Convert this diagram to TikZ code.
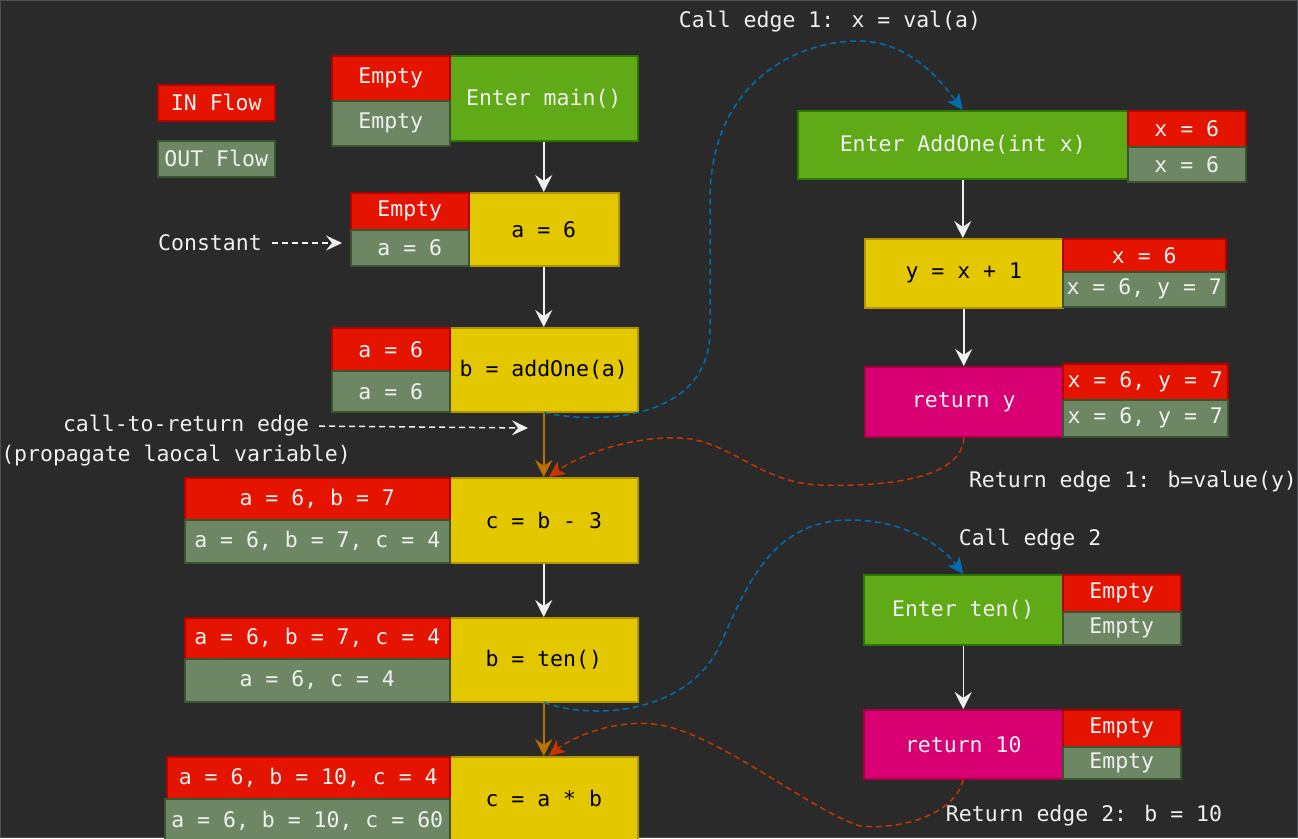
\documentclass[tikz,border=0pt]{standalone}
\usepackage{fontspec}
\setmainfont{DejaVu Sans Mono}
\usetikzlibrary{arrows.meta}
\definecolor{bg}{HTML}{2A2A2A}
\definecolor{fg}{HTML}{F0F0F0}
\definecolor{inF}{HTML}{E51400}\definecolor{inD}{HTML}{B20000}
\definecolor{outF}{HTML}{6D8764}\definecolor{outD}{HTML}{3A5431}
\definecolor{grF}{HTML}{60A917}\definecolor{grD}{HTML}{2D7600}
\definecolor{yeF}{HTML}{E3C800}\definecolor{yeD}{HTML}{B09500}
\definecolor{maF}{HTML}{D80073}\definecolor{maD}{HTML}{A50040}
\definecolor{blueE}{HTML}{006EAF}
\definecolor{redE}{HTML}{C73500}
\definecolor{orE}{HTML}{BD7000}
\definecolor{frameC}{HTML}{4A5056}
\newcommand\mybox[7]{\node[bx,#2,minimum width={(#5-#3)*1pt},minimum height={(#6-#4)*1pt}] (#1) at (#3,#4) {#7};}
\tikzset{
  bx/.style={draw, line width=1.5pt, anchor=north west, inner sep=0pt, text=fg},
  inflow/.style={fill=inF, draw=inD},
  outflow/.style={fill=outF, draw=outD},
  entry/.style={fill=grF, draw=grD},
  stmt/.style={fill=yeF, draw=yeD, text=black},
  ret/.style={fill=maF, draw=maD},
  lbl/.style={text=fg, inner sep=4pt},
  flow/.style={draw=fg, line width=1.5pt, -{Stealth[length=17pt,width=17pt,inset=6pt]}},
  ctrflow/.style={draw=orE, line width=1.5pt, -{Stealth[length=17pt,width=17pt,inset=6pt,fill=orE]}},
  calledge/.style={draw=blueE, line width=1.5pt, dash pattern=on 6pt off 4pt, -{Stealth[length=16pt,width=15pt,inset=4pt,fill=blueE]}},
  retedge/.style={draw=redE, line width=1.5pt, dash pattern=on 6pt off 4pt, -{Stealth[length=16pt,width=15pt,inset=4pt,fill=redE]}},
  noteedge/.style={draw=fg, line width=1.5pt, dash pattern=on 6pt off 4pt, shorten <=6pt, -{Stealth[length=16pt,width=15pt,inset=6pt,fill=fg]}},
}
\begin{document}
\begin{tikzpicture}[x=1pt,y=-1pt,font=\fontsize{21.5}{24}\selectfont]
\useasboundingbox (0,0) rectangle (1298,838);
\fill[bg] (0,0) rectangle (1298,838);
\draw[frameC, line width=1pt] (0.5,0.5) rectangle (1297.5,837.5);
\begin{scope}
\clip (0,0) rectangle (1298,838);
% legend
\mybox{legin}{inflow}{157}{84}{274}{120}{IN Flow}
\mybox{legout}{outflow}{157}{140}{274}{176}{OUT Flow}
% main column
\mybox{m1}{entry}{449}{55}{637}{140}{Enter main()}
\mybox{m1in}{inflow}{331}{55}{449}{100}{Empty}
\mybox{m1out}{outflow}{331}{100}{449}{145}{Empty}
\mybox{m2}{stmt}{468}{192}{618}{265}{a = 6}
\mybox{m2in}{inflow}{350}{192}{468}{229}{Empty}
\mybox{m2out}{outflow}{350}{229}{468}{265}{a = 6}
\mybox{m3}{stmt}{449}{327}{637}{411}{b = addOne(a)}
\mybox{m3in}{inflow}{331}{327}{449}{370}{a = 6}
\mybox{m3out}{outflow}{331}{370}{449}{411}{a = 6}
\mybox{m4}{stmt}{449}{477}{637}{562}{c = b - 3}
\mybox{m4in}{inflow}{184}{477}{449}{519}{a = 6, b = 7}
\mybox{m4out}{outflow}{184}{519}{449}{562}{a = 6, b = 7, c = 4}
\mybox{m5}{stmt}{449}{617}{637}{701}{b = ten()}
\mybox{m5in}{inflow}{184}{617}{449}{658}{a = 6, b = 7, c = 4}
\mybox{m5out}{outflow}{184}{658}{449}{701}{a = 6, c = 4}
\mybox{m6}{stmt}{449}{756}{637}{840}{c = a * b}
\mybox{m6in}{inflow}{166}{756}{449}{798}{a = 6, b = 10, c = 4}
\mybox{m6out}{outflow}{164}{798}{449}{842}{a = 6, b = 10, c = 60}
% right column
\mybox{r1}{entry}{797}{110}{1127}{178}{Enter AddOne(int x)}
\mybox{r1in}{inflow}{1127}{110}{1245}{146}{x = 6}
\mybox{r1out}{outflow}{1127}{146}{1245}{181}{x = 6}
\mybox{r2}{stmt}{864}{238}{1062}{307}{y = x + 1}
\mybox{r2in}{inflow}{1062}{238}{1225}{271}{x = 6}
\mybox{r2out}{outflow}{1062}{271}{1225}{306}{x = 6, y = 7}
\mybox{r3}{ret}{864}{366}{1062}{436}{return y}
\mybox{r3in}{inflow}{1062}{363}{1227}{399}{x = 6, y = 7}
\mybox{r3out}{outflow}{1062}{399}{1227}{436}{x = 6, y = 7}
\mybox{r4}{entry}{863}{574}{1062}{644}{Enter ten()}
\mybox{r4in}{inflow}{1062}{574}{1180}{611}{Empty}
\mybox{r4out}{outflow}{1062}{611}{1180}{644}{Empty}
\mybox{r5}{ret}{863}{709}{1062}{778}{return 10}
\mybox{r5in}{inflow}{1062}{709}{1180}{746}{Empty}
\mybox{r5out}{outflow}{1062}{746}{1180}{778}{Empty}
% labels
\node[lbl] (call1) at (830,22) {Call edge 1: x = val(a)};
\node[lbl] (const) at (210,243) {Constant};
\node[lbl] (ctr) at (186,426) {call-to-return edge};
\node[lbl] (ctr2) at (176,456) {(propagate laocal variable)};
\node[lbl] (ret1) at (1133,482) {Return edge 1: b=value(y)};
\node[lbl] (call2) at (1030,540) {Call edge 2};
\node[lbl] (ret2) at (1084,816) {Return edge 2: b = 10};
\coordinate (constTip) at (342,243);
\coordinate (ctrTip) at (528,428);
% flow edges
\draw[flow] (m1.south) -- (m1.south |- m2.north);
\draw[flow] (m2.south) -- (m2.south |- m3.north);
\draw[ctrflow] (m3.south) -- (m4.north);
\draw[flow] (m4.south) -- (m5.north);
\draw[ctrflow] (m5.south) -- (m6.north);
\draw[flow] (r1.south) -- (r1.south |- r2.north);
\draw[flow] (r2.south) -- (r2.south |- r3.north);
\draw[flow] (r4.south) -- (r4.south |- r5.north);
% notes
\draw[noteedge] (const.east) -- (constTip);
\draw[noteedge] (ctr.east) -- (ctrTip);
% call / return edges
\draw[calledge] (m3.south) .. controls (600,425) and (710,420) .. (710,330) -- (710,200)
  .. controls (710,80) and (800,40) .. (860,41) .. controls (910,42) and (940,80) .. (r1.north);
\draw[retedge] (r3.south) .. controls (963,480) and (880,487) .. (820,485)
  .. controls (760,483) and (730,440) .. (680,438) .. controls (630,436) and (580,455) .. ([xshift=5pt]m4.north);
\draw[calledge] (m5.south) .. controls (600,722) and (690,710) .. (720,645)
  .. controls (745,590) and (770,520) .. (850,520) .. controls (910,520) and (945,550) .. (r4.north);
\draw[retedge] (r5.south) .. controls (955,815) and (900,830) .. (860,826)
  .. controls (810,810) and (720,735) .. (660,725) .. controls (620,718) and (575,735) .. ([xshift=5pt]m6.north);
\end{scope}
\end{tikzpicture}
\end{document}
